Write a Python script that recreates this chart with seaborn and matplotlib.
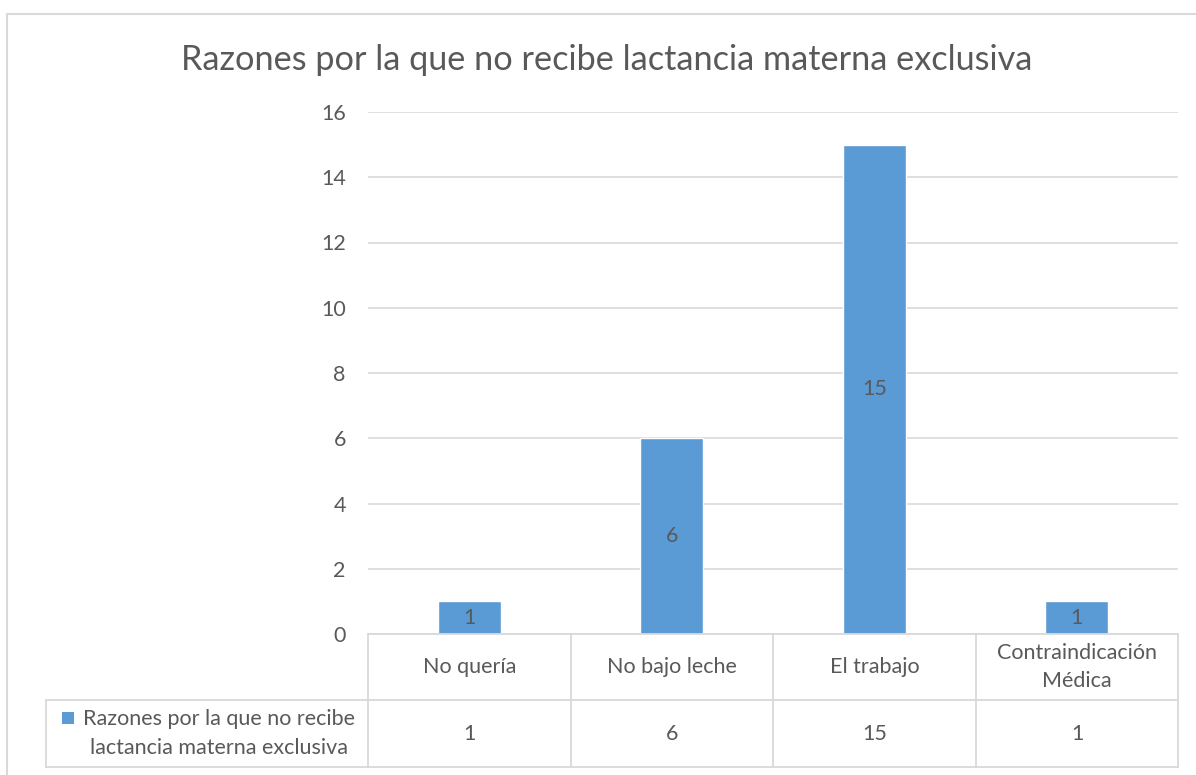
import matplotlib
matplotlib.use("Agg")
import matplotlib.pyplot as plt
import seaborn as sns
import pandas as pd
from matplotlib.lines import Line2D
from matplotlib.patches import Rectangle

categories = ["No quería", "No bajo leche", "El trabajo", "Contraindicación\nMédica"]
values = [1, 6, 15, 1]
series_name = "Razones por la que no recibe lactancia materna exclusiva"
series_label = "Razones por la que no recibe\nlactancia materna exclusiva"
y_ticks = [0, 2, 4, 6, 8, 10, 12, 14, 16]

BAR = "#5b9bd5"
TXT = "#595959"
GRID = "#d9d9d9"
FS = 15.5

sns.set_theme(style="white")
plt.rcParams["font.family"] = ["Lato", "DejaVu Sans"]

W, H = 1196, 775
fig = plt.figure(figsize=(W / 100, H / 100), dpi=100)

def fx(px):
    return px / W

def fy(py):
    return 1 - py / H

# plot area in pixels
x0, x1, y_top, y_zero = 368, 1178, 112, 634
ax = fig.add_axes([fx(x0), fy(y_zero), fx(x1) - fx(x0), fy(y_top) - fy(y_zero)])

df = pd.DataFrame({"cat": categories, "val": values})
sns.barplot(data=df, x="cat", y="val", color=BAR, saturation=1, width=0.31, ax=ax)
ax.set_xlim(-0.5, 3.5)
ax.set_ylim(0, 16)
ax.set_yticks(y_ticks)
ax.yaxis.grid(True, color=GRID, linewidth=1.2)
ax.set_axisbelow(True)
for s in ax.spines.values():
    s.set_visible(False)
ax.set_xticks([])
ax.set_xlabel("")
ax.set_ylabel("")
ax.tick_params(axis="y", length=0, pad=16, labelsize=FS, labelcolor=TXT)

ax.bar_label(ax.containers[0], labels=[str(v) for v in values],
             label_type="center", fontsize=FS, color=TXT)

# data table below the axis
lw = 1.3
cols = [368, 571, 773, 976, 1178]
r0, r1, r2 = 634, 700, 767
def hline(xa, xb, y):
    fig.add_artist(Line2D([fx(xa), fx(xb)], [fy(y), fy(y)], color=GRID, lw=lw))
def vline(x, ya, yb):
    fig.add_artist(Line2D([fx(x), fx(x)], [fy(ya), fy(yb)], color=GRID, lw=lw))

hline(368, 1178, r0)
hline(46, 1178, r1)
hline(46, 1178, r2)
for c in cols:
    vline(c, r0, r2)
vline(46, r1, r2)

for i, (cat, v) in enumerate(zip(categories, values)):
    cx = (cols[i] + cols[i + 1]) / 2
    fig.text(fx(cx), fy((r0 + r1) / 2), cat, ha="center", va="center",
             fontsize=FS, color=TXT, linespacing=1.55)
    fig.text(fx(cx), fy((r1 + r2) / 2), str(v), ha="center", va="center",
             fontsize=FS, color=TXT)

fig.add_artist(Rectangle((fx(62), fy(724)), fx(12), fy(712) - fy(724),
                         facecolor=BAR, edgecolor="none"))
fig.text(fx(219), fy((r1 + r2) / 2), series_label, ha="center", va="center",
         fontsize=FS, color=TXT, linespacing=1.55, multialignment="center")

# title
fig.text(fx(607), fy(60), series_name, ha="center", va="center",
         fontsize=24.7, color=TXT)

# chart border
fig.add_artist(Line2D([fx(7), fx(7)], [fy(14), fy(775)], color=GRID, lw=1.5))
fig.add_artist(Line2D([fx(7), fx(1196)], [fy(14), fy(14)], color=GRID, lw=1.5))

fig.savefig("out.png", dpi=100, facecolor="white")
